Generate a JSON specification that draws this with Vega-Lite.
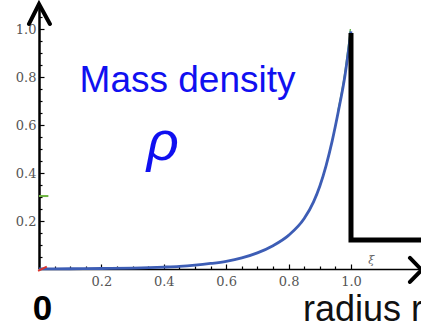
{
  "$schema": "https://vega.github.io/schema/vega-lite/v6.json",
  "width": 382,
  "height": 264,
  "autosize": {"type": "none"},
  "padding": {"left": 39, "top": 5, "right": 0, "bottom": 56},
  "background": "white",
  "config": {"view": {"stroke": null}},
  "datasets": {
    "curve": [
      {"xi": 0.0, "rho": 0.0005},
      {"xi": 0.1, "rho": 0.001},
      {"xi": 0.2, "rho": 0.002},
      {"xi": 0.3, "rho": 0.004},
      {"xi": 0.4, "rho": 0.008},
      {"xi": 0.45, "rho": 0.011},
      {"xi": 0.5, "rho": 0.016},
      {"xi": 0.55, "rho": 0.023},
      {"xi": 0.6, "rho": 0.032},
      {"xi": 0.65, "rho": 0.046},
      {"xi": 0.7, "rho": 0.067},
      {"xi": 0.75, "rho": 0.097},
      {"xi": 0.8, "rho": 0.14},
      {"xi": 0.85, "rho": 0.21},
      {"xi": 0.88, "rho": 0.28},
      {"xi": 0.9, "rho": 0.345},
      {"xi": 0.92, "rho": 0.43},
      {"xi": 0.94, "rho": 0.535},
      {"xi": 0.96, "rho": 0.66},
      {"xi": 0.98, "rho": 0.8},
      {"xi": 1.0, "rho": 0.99}
    ],
    "tip": [
      {"xi": 0.958, "rho": 0.66, "step": 1},
      {"xi": 0.978, "rho": 0.8, "step": 2},
      {"xi": 0.998, "rho": 1.0, "step": 3}
    ],
    "ell": [
      {"xi": 1.0, "rho": 0.983, "step": 1},
      {"xi": 1.0, "rho": 0.121, "step": 2},
      {"xi": 1.25, "rho": 0.121, "step": 3}
    ],
    "arrows": [
      {"arrow": "y", "step": 1, "xi": -0.032, "rho": 1.021},
      {"arrow": "y", "step": 2, "xi": 0.0, "rho": 1.104},
      {"arrow": "y", "step": 3, "xi": 0.035, "rho": 1.021},
      {"arrow": "x", "step": 1, "xi": 1.189, "rho": 0.046},
      {"arrow": "x", "step": 2, "xi": 1.2266, "rho": -0.004},
      {"arrow": "x", "step": 3, "xi": 1.189, "rho": -0.054}
    ]
  },
  "encoding": {
    "x": {
      "field": "xi",
      "type": "quantitative",
      "scale": {"domain": [0, 1.2244], "nice": false, "zero": false},
      "axis": {
        "title": null,
        "grid": false,
        "values": [0.05, 0.1, 0.15, 0.2, 0.25, 0.3, 0.35, 0.4, 0.45, 0.5, 0.55, 0.6, 0.65, 0.7, 0.75, 0.8, 0.85, 0.9, 0.95, 1.0],
        "labelExpr": "abs(datum.value * 5 - round(datum.value * 5)) < 0.001 ? format(datum.value, '.1f') : ''",
        "tickSize": {"condition": {"test": "abs(datum.value * 5 - round(datum.value * 5)) < 0.001", "value": -5}, "value": -3},
        "tickColor": "black",
        "tickWidth": 1.2,
        "domainColor": "black",
        "domainWidth": 1.4,
        "labelColor": "#555",
        "labelFont": "DejaVu Serif",
        "labelFontSize": 13,
        "labelPadding": 11,
        "labelFlush": false,
        "labelOverlap": false
      }
    },
    "y": {
      "field": "rho",
      "type": "quantitative",
      "scale": {"domain": [0, 1.1], "nice": false, "zero": false},
      "axis": {
        "title": null,
        "grid": false,
        "values": [0.05, 0.1, 0.15, 0.2, 0.25, 0.3, 0.35, 0.4, 0.45, 0.5, 0.55, 0.6, 0.65, 0.7, 0.75, 0.8, 0.85, 0.9, 0.95, 1.0, 1.05],
        "labelExpr": "abs(datum.value * 5 - round(datum.value * 5)) < 0.001 ? format(datum.value, '.1f') : ''",
        "tickSize": {"condition": {"test": "abs(datum.value * 5 - round(datum.value * 5)) < 0.001", "value": -5}, "value": -3},
        "tickColor": "black",
        "tickWidth": 1.2,
        "domainColor": "black",
        "domainWidth": 2.5,
        "labelColor": "#555",
        "labelFont": "DejaVu Serif",
        "labelFontSize": 13,
        "labelPadding": 8,
        "labelFlush": false,
        "labelOverlap": false
      }
    }
  },
  "layer": [
    {
      "data": {"name": "tip"},
      "mark": {"type": "line", "color": "#62b043", "strokeWidth": 1.3, "interpolate": "monotone"},
      "encoding": {"order": {"field": "step", "type": "quantitative"}}
    },
    {
      "data": {"name": "curve"},
      "mark": {"type": "line", "color": "#3d5db5", "strokeWidth": 2.8, "interpolate": "monotone"},
      "encoding": {}
    },
    {
      "data": {"name": "ell"},
      "mark": {"type": "line", "color": "black", "strokeWidth": 5, "strokeJoin": "miter", "strokeCap": "butt"},
      "encoding": {"order": {"field": "step", "type": "quantitative"}}
    },
    {
      "data": {"name": "arrows"},
      "mark": {"type": "line", "color": "black", "strokeWidth": 4, "strokeJoin": "miter", "strokeCap": "round"},
      "encoding": {
        "detail": {"field": "arrow", "type": "nominal"},
        "order": {"field": "step", "type": "quantitative"}
      }
    },
    {
      "data": {"values": [{"xi": 0.0, "rho": 0.304, "step": 1}, {"xi": 0.03, "rho": 0.304, "step": 2}]},
      "mark": {"type": "line", "color": "#6cb33f", "strokeWidth": 2},
      "encoding": {"order": {"field": "step", "type": "quantitative"}}
    },
    {
      "data": {"values": [{"xi": -0.003, "rho": -0.008, "step": 1}, {"xi": 0.025, "rho": 0.01, "step": 2}]},
      "mark": {"type": "line", "color": "#d9342b", "strokeWidth": 2},
      "encoding": {"order": {"field": "step", "type": "quantitative"}}
    },
    {
      "data": {"values": [{"label": "Mass density", "xi": 0.476, "rho": 0.736}]},
      "mark": {"type": "text", "font": "Liberation Sans", "fontSize": 37, "color": "#1010f0", "align": "center", "baseline": "alphabetic"},
      "encoding": {"text": {"field": "label"}}
    },
    {
      "data": {"values": [{"label": "ρ", "xi": 0.397, "rho": 0.454}]},
      "mark": {"type": "text", "font": "Liberation Sans", "fontStyle": "italic", "fontSize": 56, "color": "#1010f0", "align": "center", "baseline": "alphabetic"},
      "encoding": {"text": {"field": "label"}}
    },
    {
      "data": {"values": [{"label": "0", "xi": 0.011, "rho": -0.2125}]},
      "mark": {"type": "text", "font": "Liberation Sans", "fontWeight": "bold", "fontSize": 35, "color": "black", "align": "center", "baseline": "alphabetic"},
      "encoding": {"text": {"field": "label"}}
    },
    {
      "data": {"values": [{"label": "radius r", "xi": 0.846, "rho": -0.217}]},
      "mark": {"type": "text", "font": "Liberation Sans", "fontSize": 36, "color": "#111", "align": "left", "baseline": "alphabetic"},
      "encoding": {"text": {"field": "label"}}
    },
    {
      "data": {"values": [{"label": "ξ", "xi": 1.065, "rho": 0.02}]},
      "mark": {"type": "text", "font": "DejaVu Serif", "fontStyle": "italic", "fontSize": 11, "color": "#666", "align": "center", "baseline": "alphabetic"},
      "encoding": {"text": {"field": "label"}}
    }
  ]
}
